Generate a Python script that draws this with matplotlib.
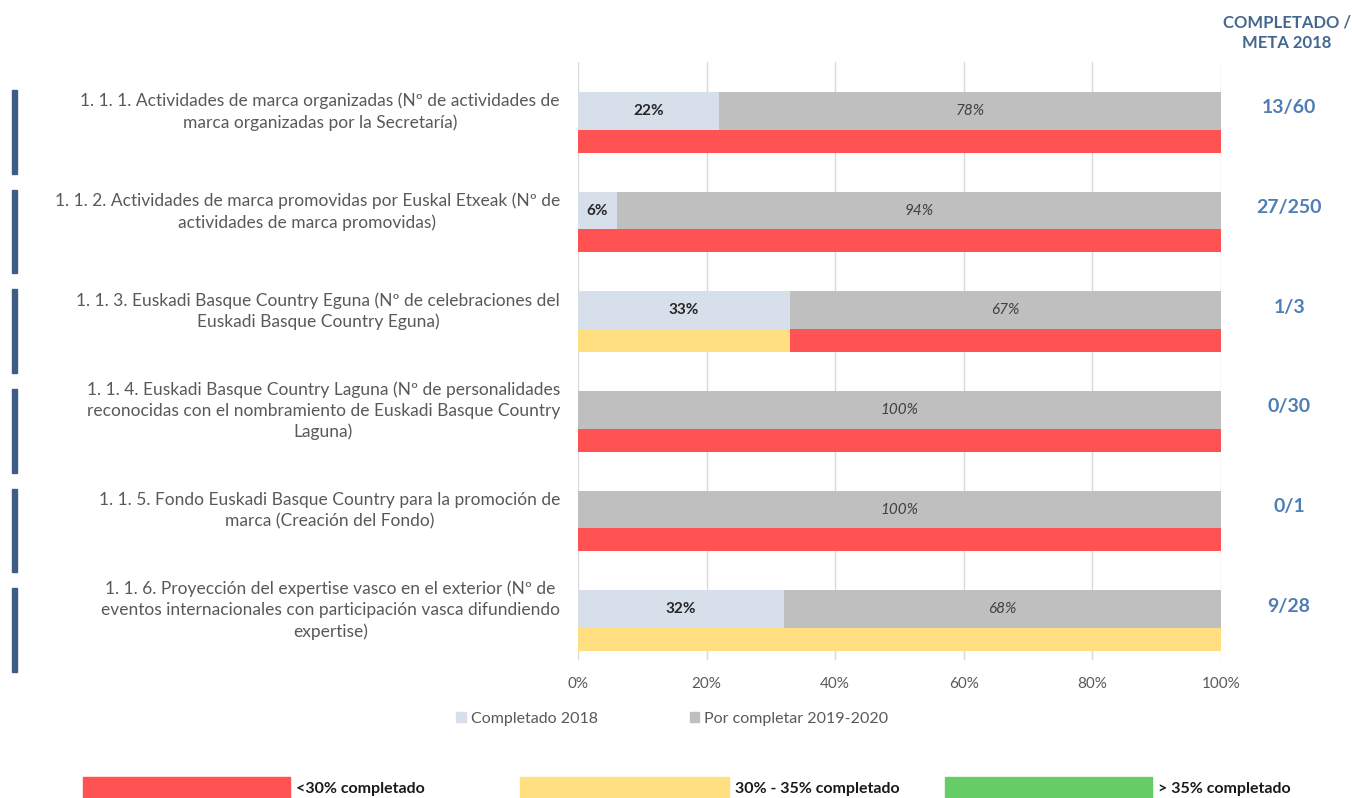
import numpy as np
import matplotlib.pyplot as plt
from matplotlib.patches import Rectangle

plt.rcParams['font.family'] = ['Lato', 'DejaVu Sans']

# ---------- Datos ----------
labels = [
    "1. 1. 1. Actividades de marca organizadas (Nº de actividades de\nmarca organizadas por la Secretaría)",
    "1. 1. 2. Actividades de marca promovidas por Euskal Etxeak (Nº de\nactividades de marca promovidas)",
    "1. 1. 3. Euskadi Basque Country Eguna (Nº de celebraciones del\nEuskadi Basque Country Eguna)",
    "1. 1. 4. Euskadi Basque Country Laguna (Nº de personalidades\nreconocidas con el nombramiento de Euskadi Basque Country\nLaguna)",
    "1. 1. 5. Fondo Euskadi Basque Country para la promoción de\nmarca (Creación del Fondo)",
    "1. 1. 6. Proyección del expertise vasco en el exterior (Nº de\neventos internacionales con participación vasca difundiendo\nexpertise)",
]
completado = [22, 6, 33, 0, 0, 32]
por_completar = [78, 94, 67, 100, 100, 68]
ratio_labels = ["13/60", "27/250", "1/3", "0/30", "0/1", "9/28"]
# barra de estado: tramo amarillo (30-35%) y tramo rojo (<30%)
estado_amarillo = [0, 0, 33, 0, 0, 100]
estado_rojo = [100, 100, 67, 100, 100, 0]

c_light = "#D6DFEA"
c_grey = "#BFBFBF"
c_red = "#FF5252"
c_yellow = "#FFDF80"
c_green = "#66CC66"
c_text = "#595959"
c_blue = "#4F7DB4"
c_dark = "#3E5D85"

fig = plt.figure(figsize=(13.52, 7.98), dpi=100)
ax = fig.add_axes([578 / 1352, 1 - 660 / 798, (1221 - 578) / 1352, (660 - 62) / 798])

n = len(labels)
y = np.arange(n)
top_h, bot_h = 0.38, 0.23
y_top = y + 0.30 + top_h / 2
y_bot = y + 0.30 + top_h + bot_h / 2

ax.barh(y_top, completado, height=top_h, color=c_light, zorder=2)
ax.barh(y_top, por_completar, left=completado, height=top_h, color=c_grey, zorder=2)
ax.barh(y_bot, estado_amarillo, height=bot_h, color=c_yellow, zorder=2)
ax.barh(y_bot, estado_rojo, left=estado_amarillo, height=bot_h, color=c_red, zorder=2)

for i in range(n):
    if completado[i] > 0:
        ax.text(completado[i] / 2, y_top[i], f"{completado[i]}%", ha="center", va="center",
                fontsize=11, fontweight="bold", color="#262626", zorder=3)
    ax.text(completado[i] + por_completar[i] / 2, y_top[i], f"{por_completar[i]}%", ha="center",
            va="center", fontsize=11, style="italic", color="#404040", zorder=3)
    # etiqueta de la izquierda
    ax.text(-0.028, y[i] + 0.5, labels[i], transform=ax.get_yaxis_transform(), ha="right",
            va="center", multialignment="center", fontsize=12.5, color=c_text, linespacing=1.38)
    # completado / meta
    ax.text(1.106, y[i] + 0.46, ratio_labels[i], transform=ax.get_yaxis_transform(), ha="center",
            va="center", fontsize=14, fontweight="bold", color=c_blue)
    # barra vertical azul
    yb0 = 1 - (62 + (y[i] + 0.28) * 99.7) / 798
    fig.patches.append(Rectangle((12 / 1352, yb0 - 0.84 * 99.7 / 798), 5 / 1352, 0.84 * 99.7 / 798,
                                 transform=fig.transFigure, color=c_dark))

ax.set_xlim(0, 100)
ax.set_ylim(n, 0)
ax.set_xticks(np.arange(0, 101, 20))
ax.set_xticklabels([f"{v}%" for v in range(0, 101, 20)])
ax.tick_params(axis="x", length=0, pad=12, labelsize=11, labelcolor=c_text)
ax.set_yticks([])
ax.grid(axis="x", color="#D9D9D9", lw=1, zorder=0)
for s in ax.spines.values():
    s.set_visible(False)

fig.text(1287 / 1352, 1 - 33 / 798, "COMPLETADO /\nMETA 2018", ha="center", va="center",
         fontsize=12, fontweight="bold", color="#44678F", linespacing=1.35)

# leyenda de series
h1 = Rectangle((0, 0), 1, 1, color=c_light)
h2 = Rectangle((0, 0), 1, 1, color=c_grey)
leg = fig.legend([h1, h2], ["Completado 2018", "Por completar 2019-2020"], loc="center left",
                 bbox_to_anchor=(442 / 1352, 1 - 719 / 798), ncol=2, frameon=False,
                 handlelength=0.6, handleheight=0.6, handletextpad=0.3, columnspacing=5.75,
                 fontsize=11.5)
for t in leg.get_texts():
    t.set_color(c_text)

# leyenda de estado
estado = [(83, 290, c_red, "<30% completado"),
          (520, 729, c_yellow, "30% - 35% completado"),
          (945, 1152, c_green, "> 35% completado")]
for x0, x1, col, txt in estado:
    fig.patches.append(Rectangle((x0 / 1352, 0), (x1 - x0) / 1352, 21 / 798,
                                 transform=fig.transFigure, color=col))
    fig.text((x1 + 6) / 1352, 1 - 789 / 798, txt, ha="left", va="center", fontsize=11.5,
             fontweight="bold", color="#1a1a1a")

fig.savefig("out.png", dpi=100)
